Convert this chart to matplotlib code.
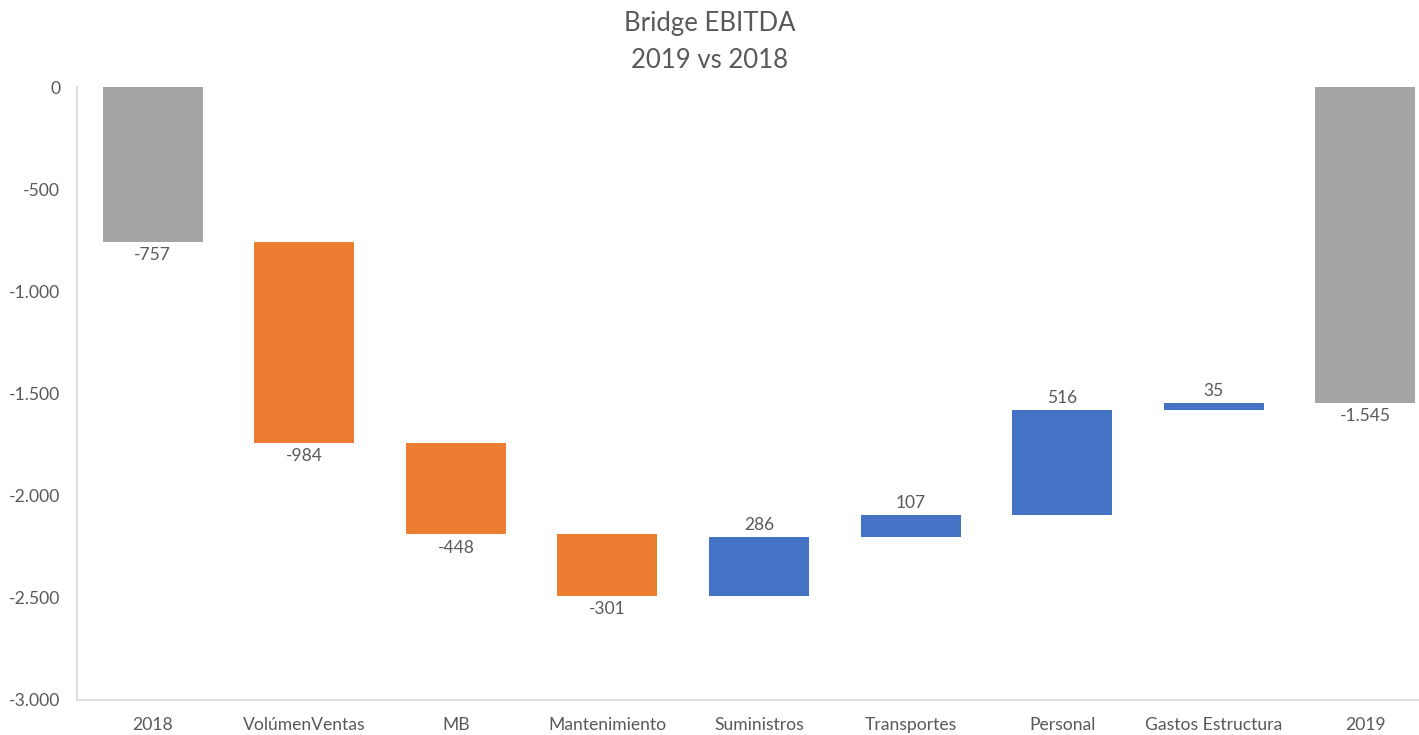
import matplotlib.pyplot as plt
import numpy as np

categories = ['2018', 'VolúmenVentas', 'MB', 'Mantenimiento', 'Suministros',
              'Transportes', 'Personal', 'Gastos Estructura', '2019']
values = [-757, -984, -448, -301, 286, 107, 516, 35, -1545]
is_total = [True, False, False, False, False, False, False, False, True]
value_labels = ['-757', '-984', '-448', '-301', '286', '107', '516', '35', '-1.545']
yticks = [0, -500, -1000, -1500, -2000, -2500, -3000]
ytick_labels = ['0', '-500', '-1.000', '-1.500', '-2.000', '-2.500', '-3.000']

GREY = '#a5a5a5'
ORANGE = '#ed7d31'
BLUE = '#4472c4'
TEXT = '#595959'
SPINE = '#d9d9d9'

plt.rcParams['font.family'] = ['Lato', 'DejaVu Sans']

fig = plt.figure(figsize=(14.19, 7.35), dpi=100)
ax = fig.add_axes([77 / 1419, 35 / 735, 1364 / 1419, 613 / 735])

# waterfall: running total, totals start from zero
running = 0
x = np.arange(len(categories))
for i, (v, tot, lab) in enumerate(zip(values, is_total, value_labels)):
    if tot:
        base = 0
        color = GREY
        running = v
        top, bottom = 0, v
    else:
        base = running
        color = BLUE if v > 0 else ORANGE
        running += v
        top, bottom = max(base, running), min(base, running)
    ax.bar(x[i], v, bottom=base, width=0.66, color=color)
    if v < 0:
        ax.annotate(lab, (x[i], bottom), xytext=(0, -4), textcoords='offset points',
                    ha='center', va='top', fontsize=12.5, color=TEXT)
    else:
        ax.annotate(lab, (x[i], top), xytext=(0, 3), textcoords='offset points',
                    ha='center', va='bottom', fontsize=12.5, color=TEXT)

ax.set_xlim(-0.5, len(categories) - 0.5)
ax.set_ylim(-3000, 0)
ax.set_yticks(yticks)
ax.set_yticklabels(ytick_labels)
ax.set_xticks(x)
ax.set_xticklabels(categories)
ax.tick_params(length=0, labelsize=12.6, colors=TEXT)
ax.tick_params(axis='y', pad=12)
ax.tick_params(axis='x', pad=12)

for s in ['top', 'right']:
    ax.spines[s].set_visible(False)
for s in ['left', 'bottom']:
    ax.spines[s].set_color(SPINE)
    ax.spines[s].set_linewidth(1.2)

fig.text(0.5, 1 - 24 / 735, 'Bridge EBITDA', ha='center', va='center',
         fontsize=18.5, color=TEXT)
fig.text(0.5, 1 - 60 / 735, '2019 vs 2018', ha='center', va='center',
         fontsize=18.5, color=TEXT)

fig.savefig('out.png', dpi=100)
